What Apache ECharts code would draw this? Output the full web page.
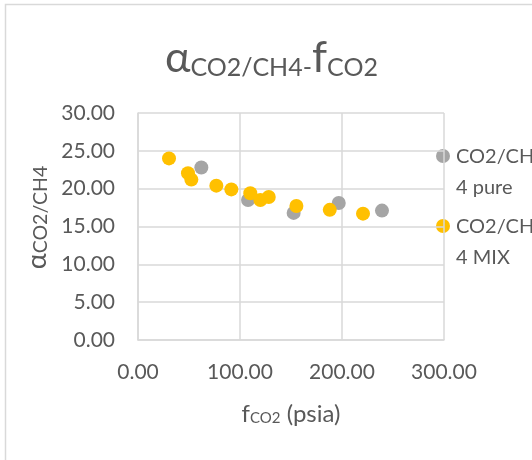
<!DOCTYPE html>
<html>
<head>
<meta charset="utf-8">
<script src="https://cdn.jsdelivr.net/npm/echarts@6/dist/echarts.min.js"></script>
<style>
  html, body { margin: 0; padding: 0; background: #ffffff; }
  #chart { width: 532px; height: 460px; }
</style>
</head>
<body>
<div id="chart"></div>
<script>
// Separation factor vs CO2 fugacity
const seriesNames = ['CO2/CH4 pure', 'CO2/CH4 MIX'];
const legendLines = [['CO2/CH', '4 pure'], ['CO2/CH', '4 MIX']];

const pureFco2 = [62.1, 107.9, 152.6, 196.8, 239.2];
const pureAlpha = [22.8, 18.5, 16.8, 18.1, 17.1];

const mixFco2 = [30.4, 49.0, 52.3, 76.8, 91.5, 110.1, 120.0, 128.2, 155.3, 188.0, 220.6];
const mixAlpha = [24.0, 22.05, 21.2, 20.4, 19.9, 19.4, 18.5, 18.9, 17.7, 17.2, 16.7];

const xTicks = [0, 100, 200, 300];
const yTicks = [0, 5, 10, 15, 20, 25, 30];

const colors = ['#a5a5a5', '#ffc000'];
const textColor = '#595959';
const gridColor = '#d9d9d9';
const fontFamily = 'Lato, "Noto Sans", sans-serif';

const zip = (xs, ys) => xs.map((x, i) => [x, ys[i]]);

const chart = echarts.init(document.getElementById('chart'), null, { renderer: 'canvas' });

const legendGraphics = [];
const legendTop = [156, 226];
legendLines.forEach((lines, i) => {
  legendGraphics.push({
    type: 'circle',
    shape: { cx: 443, cy: legendTop[i], r: 7 },
    style: { fill: colors[i] }
  });
  legendGraphics.push({
    type: 'text',
    x: 456,
    y: legendTop[i],
    style: {
      text: lines.join('\n'),
      fill: textColor,
      font: '20px ' + fontFamily,
      lineHeight: 31,
      verticalAlign: 'top',
      padding: [-15, 0, 0, 0]
    }
  });
});

chart.setOption({
  backgroundColor: '#ffffff',
  animation: false,
  title: {
    text: '{a|α}{s|CO2/CH4-}{a|f}{s|CO2}',
    left: 160,
    top: 27,
    textStyle: {
      rich: {
        a: { fontSize: 43, fontWeight: 'normal', fontFamily: fontFamily, color: textColor, lineHeight: 48, verticalAlign: 'bottom' },
        s: { fontSize: 25, fontWeight: 'normal', fontFamily: fontFamily, color: textColor, lineHeight: 22, verticalAlign: 'bottom' }
      }
    }
  },
  grid: { left: 138, right: 88, top: 113, bottom: 120 },
  xAxis: {
    type: 'value',
    min: xTicks[0],
    max: xTicks[xTicks.length - 1],
    interval: 100,
    name: '{m|f}{s|CO2}{m| (psia)}',
    nameLocation: 'middle',
    nameGap: 58,
    nameTextStyle: {
      rich: {
        m: { fontSize: 24, fontFamily: fontFamily, color: textColor, lineHeight: 28, verticalAlign: 'bottom' },
        s: { fontSize: 15, fontFamily: fontFamily, color: textColor, lineHeight: 14, verticalAlign: 'bottom' }
      }
    },
    axisLine: { show: true, lineStyle: { color: gridColor, width: 1.5 } },
    axisTick: { show: false },
    splitLine: { show: true, lineStyle: { color: gridColor, width: 1.5 } },
    axisLabel: {
      color: textColor,
      fontSize: 21,
      fontFamily: fontFamily,
      margin: 22,
      formatter: v => v.toFixed(2)
    }
  },
  yAxis: {
    type: 'value',
    min: yTicks[0],
    max: yTicks[yTicks.length - 1],
    interval: 5,
    name: '{a|α}{s|CO2/CH4}',
    nameLocation: 'middle',
    nameGap: 76,
    nameRotate: 90,
    nameTextStyle: {
      padding: [0, 0, 0, 18],
      rich: {
        a: { fontSize: 27, fontFamily: fontFamily, color: textColor, lineHeight: 30, verticalAlign: 'bottom' },
        s: { fontSize: 19.5, fontFamily: fontFamily, color: textColor, lineHeight: 18, verticalAlign: 'bottom' }
      }
    },
    axisLine: { show: true, lineStyle: { color: gridColor, width: 1.5 } },
    axisTick: { show: false },
    splitLine: { show: true, lineStyle: { color: gridColor, width: 1.5 } },
    axisLabel: {
      color: textColor,
      fontSize: 21,
      fontFamily: fontFamily,
      margin: 23,
      formatter: v => v.toFixed(2)
    }
  },
  series: [
    {
      name: seriesNames[0],
      type: 'scatter',
      symbol: 'circle',
      symbolSize: 14,
      itemStyle: { color: colors[0], opacity: 1 },
      data: zip(pureFco2, pureAlpha),
      z: 2
    },
    {
      name: seriesNames[1],
      type: 'scatter',
      symbol: 'circle',
      symbolSize: 14,
      itemStyle: { color: colors[1], opacity: 1 },
      data: zip(mixFco2, mixAlpha),
      z: 3
    }
  ],
  graphic: [
    {
      type: 'rect',
      shape: { x: 5.5, y: 4.5, width: 700, height: 700 },
      style: { fill: 'none', stroke: gridColor, lineWidth: 1.5 },
      silent: true
    }
  ].concat(legendGraphics)
});
</script>
</body>
</html>
